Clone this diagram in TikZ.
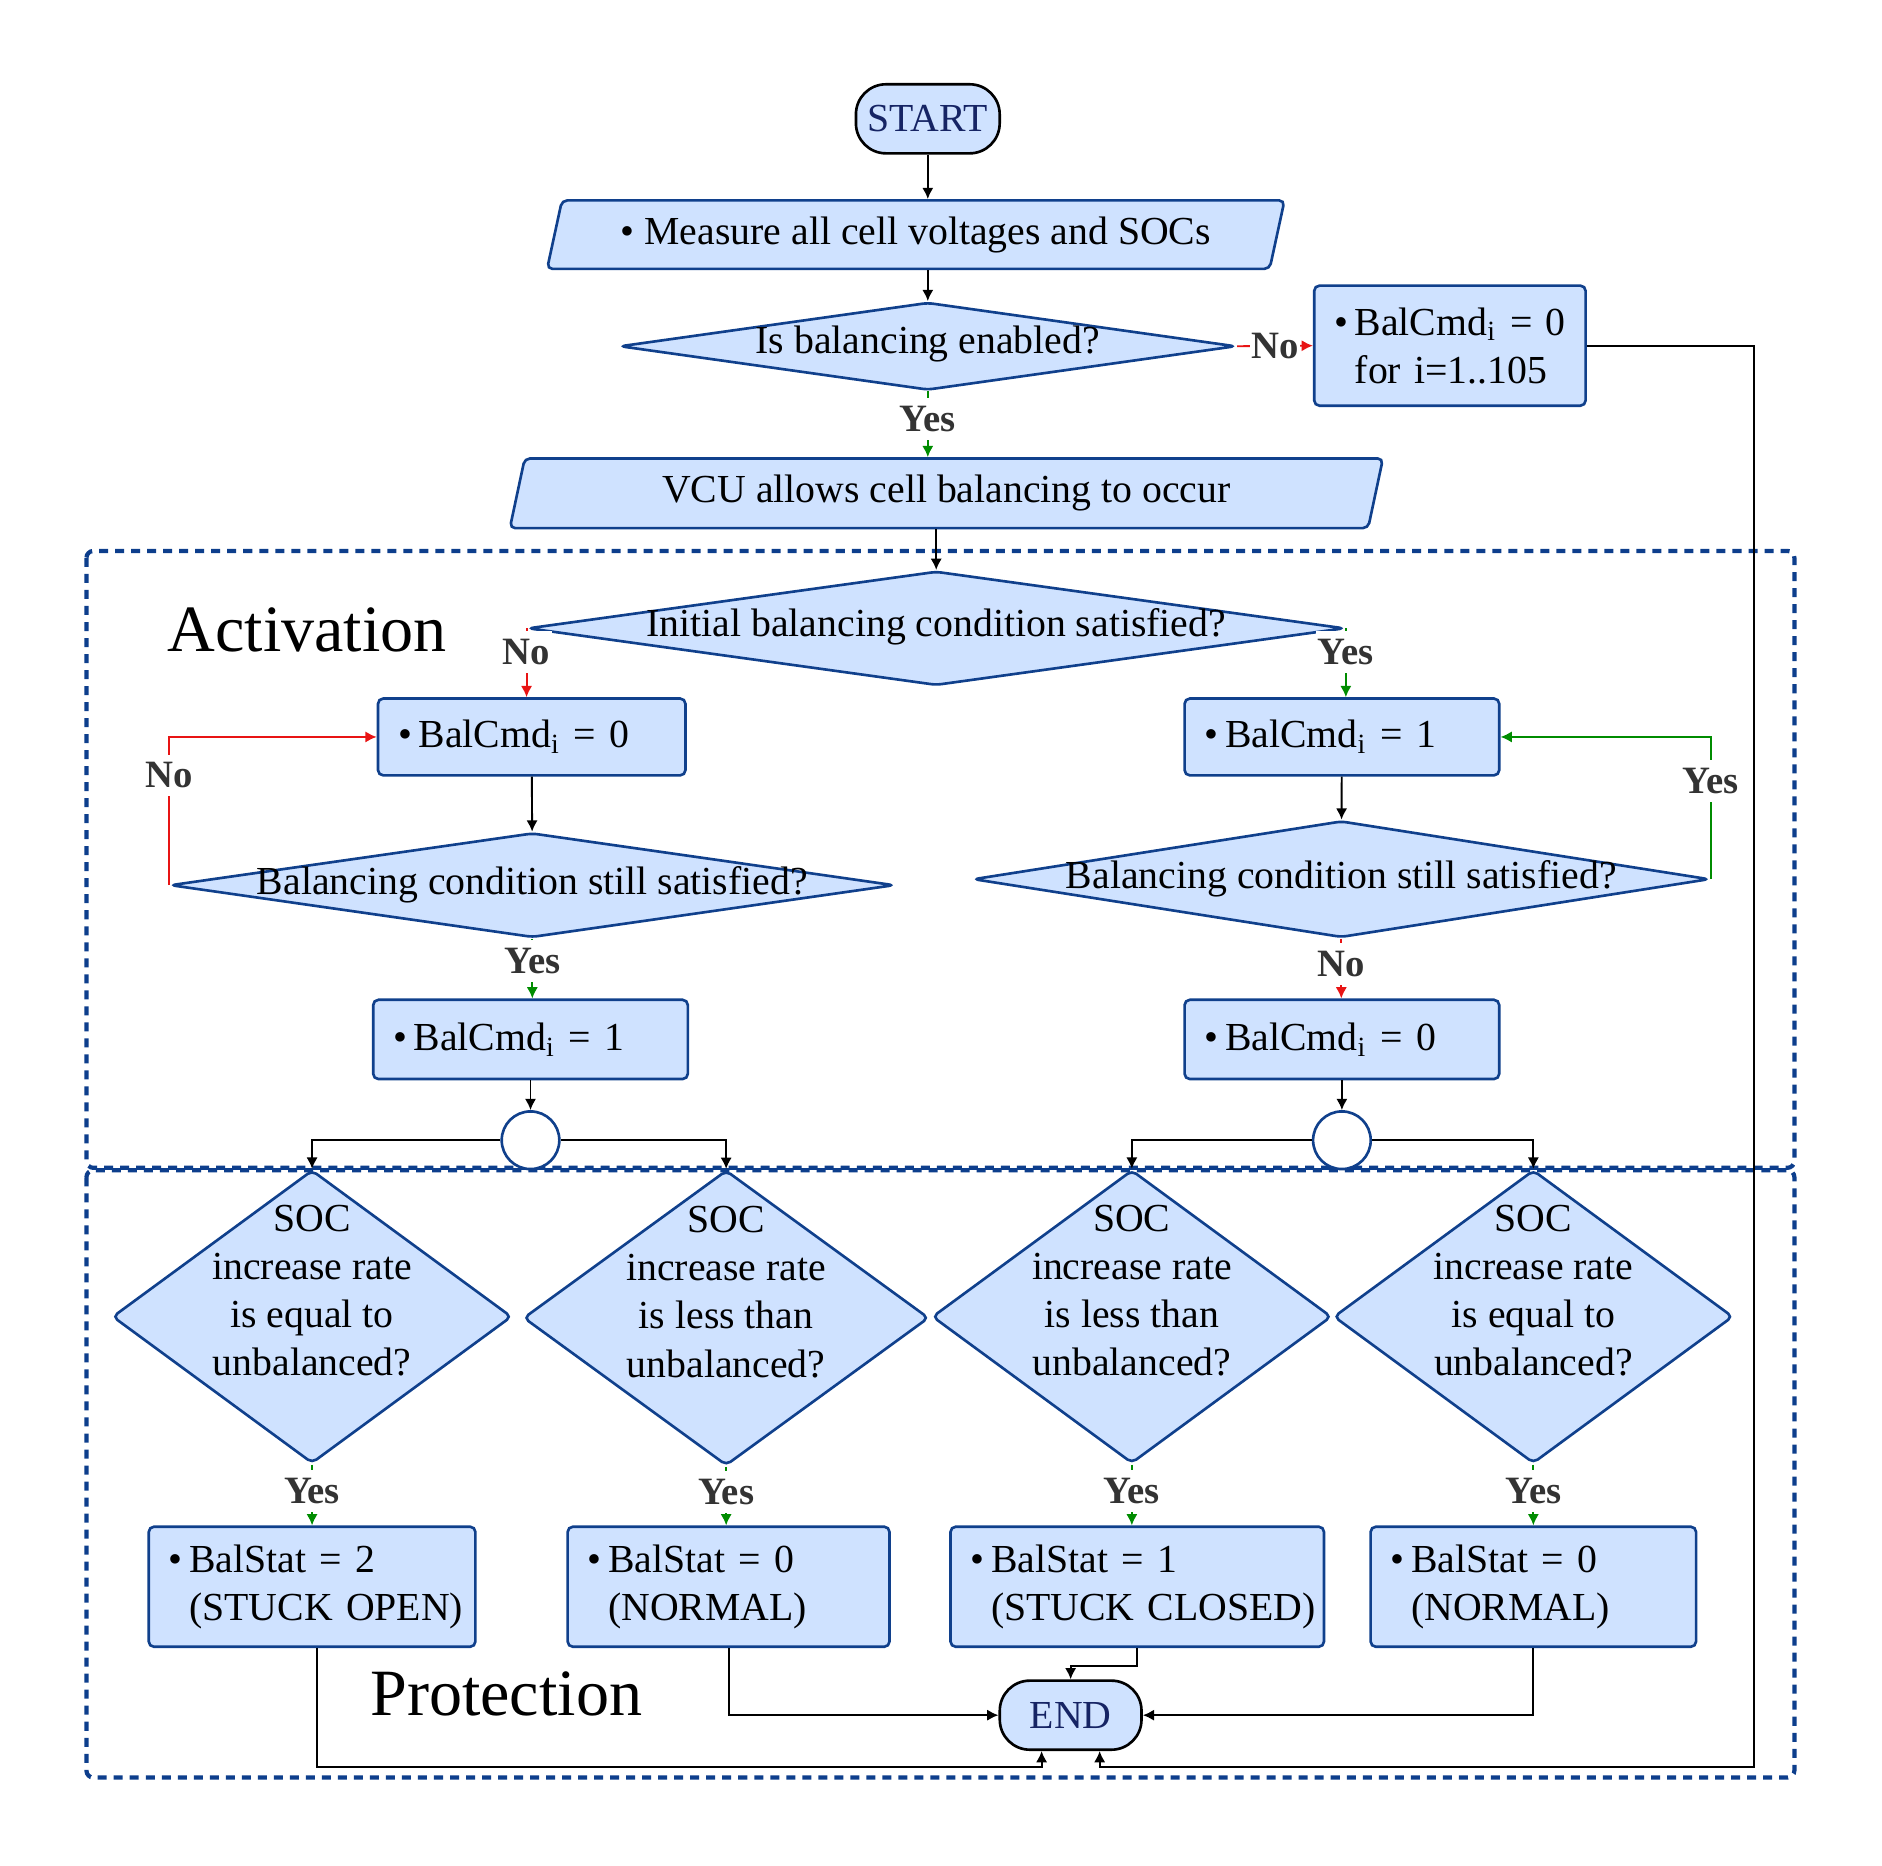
\documentclass[tikz,border=0pt]{standalone}
\usepackage{fontspec}
\setmainfont{Liberation Serif}
\usepackage{xcolor}
\usepackage{tikz}
\usetikzlibrary{arrows.meta,positioning,shapes.geometric}

\definecolor{boxfill}{RGB}{207,226,255}
\definecolor{boxline}{RGB}{16,64,140}
\definecolor{dashline}{RGB}{13,62,140}
\definecolor{termtext}{RGB}{22,36,100}
\definecolor{yesgreen}{RGB}{0,140,0}
\definecolor{nored}{RGB}{232,20,20}
\definecolor{lblgray}{RGB}{51,51,51}

\begin{document}
\begin{tikzpicture}[
  x=0.012cm, y=-0.012cm,
  font=\fontsize{11.3}{13.7}\selectfont,
  term/.style={draw=black, fill=boxfill, text=termtext, rounded corners=0.3cm, line width=0.75pt, minimum width=1.416cm, minimum height=0.69cm, font=\fontsize{11.3}{13}\selectfont},
  io/.style={trapezium, trapezium left angle=76, trapezium right angle=104, trapezium stretches body, draw=boxline, fill=boxfill, line width=0.75pt, rounded corners=1.5pt},
  dec/.style={diamond, draw=boxline, fill=boxfill, line width=0.75pt, rounded corners=1.5pt, inner sep=0pt},
  dtext/.style={align=center, inner sep=0pt},
  box/.style={draw=boxline, fill=boxfill, line width=0.75pt, rounded corners=1.5pt, align=left, inner xsep=0.2cm},
  junction/.style={circle, draw=boxline, fill=white, line width=0.75pt, minimum size=0.576cm, inner sep=0pt},
  zone/.style={draw=dashline, line width=1.2pt, dash pattern=on 0.09cm off 0.07cm, rounded corners=2pt},
  zonetitle/.style={font=\fontsize{18.8}{22}\selectfont, inner sep=0pt},
  arr/.style={-{Latex[length=3.2pt,width=3.2pt]}, line width=0.55pt},
  yesline/.style={arr, draw=yesgreen},
  noline/.style={arr, draw=nored},
  lbl/.style={font=\fontsize{11}{13}\selectfont\bfseries, text=lblgray, fill=white, inner xsep=0.5pt, inner ysep=2.3pt}
]
  \useasboundingbox (0,0) rectangle (1568,1554);

  \draw[zone] (72,459) rectangle (1495,973);
  \draw[zone] (72,975) rectangle (1495,1481);
  \node[zonetitle, anchor=west] (acttitle) at (139,525) {Activation};
  \node[zonetitle, anchor=west] (prottitle) at (308,1411) {Protection};

  \node[term] (start) at (773,99) {START};
  \node[io, minimum width=7.368cm, minimum height=0.684cm] (meas) at (763,195.5) {\textbullet\ Measure all cell voltages and SOCs};
  \node[dec, minimum width=6.156cm, minimum height=0.876cm, label={[dtext,yshift=0.02cm]center:Is balancing enabled?}] (enab) at (773,288.5) {};
  \node[box, text width=2.312cm, minimum height=1.2cm] (cmdall) at (1208,288) {\textbullet\,BalCmd\textsubscript{i}~=~0\\\hphantom{\textbullet\,}for~i=1..105};
  \node[io, minimum width=8.724cm, minimum height=0.696cm] (vcu) at (788.5,411) {VCU allows cell balancing to occur};
  \node[dec, minimum width=8.16cm, minimum height=1.14cm, label={[dtext,yshift=0.02cm]center:Initial balancing condition satisfied?}] (init) at (780,523.5) {};

  \node[box, text width=2.672cm, minimum height=0.768cm] (offa) at (443,614) {\textbullet\,BalCmd\textsubscript{i}~=~0};
  \node[box, text width=2.744cm, minimum height=0.768cm] (onb) at (1118,614) {\textbullet\,BalCmd\textsubscript{i}~=~1};
  \node[dec, minimum width=7.236cm, minimum height=1.044cm, label={[dtext]center:Balancing condition still satisfied?}] (stilla) at (443.5,737.5) {};
  \node[dec, minimum width=7.356cm, minimum height=1.164cm, label={[dtext]center:Balancing condition still satisfied?}] (stillb) at (1117.5,732.5) {};
  \node[box, text width=2.744cm, minimum height=0.792cm] (ona) at (442,866) {\textbullet\,BalCmd\textsubscript{i}~=~1};
  \node[box, text width=2.744cm, minimum height=0.792cm] (offb) at (1118,866) {\textbullet\,BalCmd\textsubscript{i}~=~0};
  \node[junction] (forka) at (442,950) {};
  \node[junction] (forkb) at (1118,950) {};

  \node[dec, minimum width=3.99cm, minimum height=2.93cm, label={[dtext,yshift=0.26cm]center:{SOC\\increase rate\\is equal to\\unbalanced?}}] (rate1) at (260,1097) {};
  \node[dec, minimum width=4.05cm, minimum height=2.95cm, label={[dtext,yshift=0.26cm]center:{SOC\\increase rate\\is less than\\unbalanced?}}] (rate2) at (605,1098) {};
  \node[dec, minimum width=3.99cm, minimum height=2.93cm, label={[dtext,yshift=0.26cm]center:{SOC\\increase rate\\is less than\\unbalanced?}}] (rate3) at (943,1097) {};
  \node[dec, minimum width=3.99cm, minimum height=2.93cm, label={[dtext,yshift=0.26cm]center:{SOC\\increase rate\\is equal to\\unbalanced?}}] (rate4) at (1277.5,1097) {};

  \node[box, text width=2.864cm, minimum height=1.2cm] (stat1) at (260,1322) {\textbullet\,BalStat~=~2\\\hphantom{\textbullet\,}(STUCK~OPEN)};
  \node[box, text width=2.816cm, minimum height=1.2cm] (stat2) at (607,1322) {\textbullet\,BalStat~=~0\\\hphantom{\textbullet\,}(NORMAL)};
  \node[box, text width=3.332cm, minimum height=1.2cm] (stat3) at (947.5,1322) {\textbullet\,BalStat~=~1\\\hphantom{\textbullet\,}(STUCK~CLOSED)};
  \node[box, text width=2.852cm, minimum height=1.2cm] (stat4) at (1277.5,1322) {\textbullet\,BalStat~=~0\\\hphantom{\textbullet\,}(NORMAL)};
  \node[term] (finish) at (892,1429) {END};
  \coordinate (corner) at (1461,1472);

  \draw[arr] (start.south) -- (start.south |- meas.north);
  \draw[arr] (meas.south -| enab.north) -- (enab.north);
  \draw[noline] (enab.east) -- node[lbl]{No} (cmdall.west);
  \draw[yesline] (enab.south) -- node[lbl, pos=0.42]{Yes} (enab.south |- vcu.north);
  \draw[arr] (vcu.south -| init.north) -- (init.north);

  \draw[noline] (init.west) -- node[lbl, pos=0.35]{No} (init.west |- offa.north);
  \draw[yesline] (init.east) -- node[lbl, pos=0.35]{Yes} (init.east |- onb.north);
  \draw[arr] (offa) -- (stilla);
  \draw[arr] (onb) -- (stillb);
  \draw[yesline] (stilla.south) -- node[lbl, pos=0.37]{Yes} (stilla.south |- ona.north);
  \draw[noline] (stilla.west) |- node[lbl, pos=0.37]{No} (offa.west);
  \draw[noline] (stillb.south) -- node[lbl, pos=0.42]{No} (stillb.south |- offb.north);
  \draw[yesline] (stillb.east) |- node[lbl, pos=0.345]{Yes} (onb.east);
  \draw[arr] (ona) -- (forka);
  \draw[arr] (offb) -- (forkb);
  \draw[arr] (forka.west) -| (rate1.north);
  \draw[arr] (forka.east) -| (rate2.north);
  \draw[arr] (forkb.west) -| (rate3.north);
  \draw[arr] (forkb.east) -| (rate4.north);

  \foreach \i in {1,...,4}
    \draw[yesline] (rate\i.south) -- node[lbl, pos=0.43]{Yes} (rate\i.south |- stat\i.north);

  \draw[arr] (cmdall.east) -| (corner) -| ([xshift=0.29cm]finish.south);
  \draw[arr] ([xshift=0.05cm]stat1.south) |- ([xshift=-0.29cm]finish.south |- corner) -- ([xshift=-0.29cm]finish.south);
  \draw[arr] (stat2.south) |- (finish.west);
  \draw[arr] (stat3.south) -- ++(0,15) -| (finish.north);
  \draw[arr] (stat4.south) |- (finish.east);
\end{tikzpicture}
\end{document}
